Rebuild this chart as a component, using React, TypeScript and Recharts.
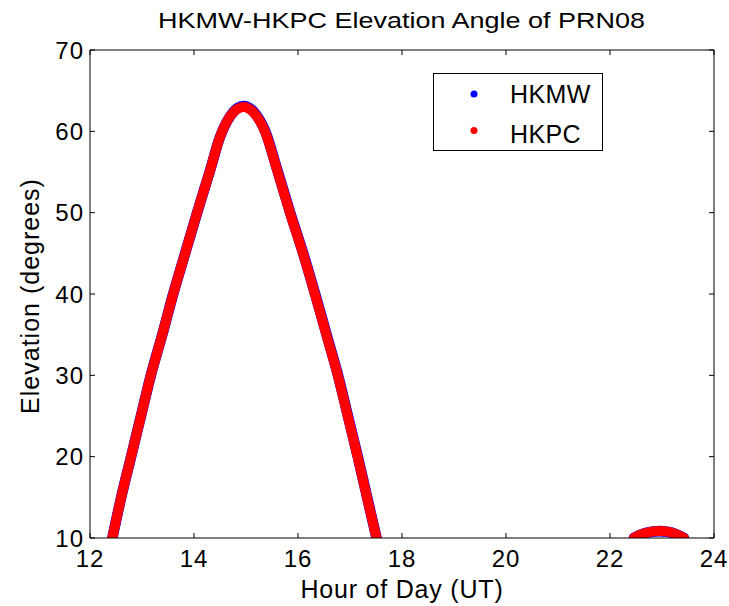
import React from "react";
import { LineChart, Line, XAxis, YAxis } from "recharts";

const xTicks = [12, 14, 16, 18, 20, 22, 24];
const yTicks = [10, 20, 30, 40, 50, 60, 70];

const hkmwPass1 = [
  { x: 12.43, y: 10 }, { x: 12.6, y: 15 }, { x: 12.79, y: 20 }, { x: 12.98, y: 25 },
  { x: 13.17, y: 30 }, { x: 13.39, y: 35 }, { x: 13.6, y: 40 }, { x: 13.83, y: 45 },
  { x: 14.06, y: 50 }, { x: 14.3, y: 55 }, { x: 14.5, y: 59.3 }, { x: 14.7, y: 61.9 },
  { x: 14.95, y: 63.1 }, { x: 15.15, y: 62.4 }, { x: 15.37, y: 60 }, { x: 15.6, y: 55.3 },
  { x: 15.85, y: 50 }, { x: 16.1, y: 45 }, { x: 16.33, y: 40 }, { x: 16.55, y: 35 },
  { x: 16.77, y: 30 }, { x: 16.96, y: 25 }, { x: 17.15, y: 20 }, { x: 17.33, y: 15 },
  { x: 17.51, y: 10 },
];
const hkmwPass2 = [
  { x: 22.46, y: 10 }, { x: 22.6, y: 10.45 }, { x: 22.8, y: 10.78 }, { x: 22.95, y: 10.85 },
  { x: 23.1, y: 10.78 }, { x: 23.28, y: 10.45 }, { x: 23.42, y: 10 },
];
const hkpcPass1 = [
  { x: 12.43, y: 10 }, { x: 12.6, y: 15 }, { x: 12.79, y: 20 }, { x: 12.98, y: 25 },
  { x: 13.17, y: 30 }, { x: 13.39, y: 35 }, { x: 13.6, y: 40 }, { x: 13.83, y: 45 },
  { x: 14.06, y: 50 }, { x: 14.3, y: 55 }, { x: 14.5, y: 59.3 }, { x: 14.7, y: 61.9 },
  { x: 14.95, y: 63.0 }, { x: 15.15, y: 62.3 }, { x: 15.37, y: 59.9 }, { x: 15.6, y: 55.2 },
  { x: 15.85, y: 49.9 }, { x: 16.1, y: 44.9 }, { x: 16.33, y: 39.9 }, { x: 16.55, y: 34.9 },
  { x: 16.77, y: 29.9 }, { x: 16.96, y: 24.9 }, { x: 17.15, y: 19.9 }, { x: 17.33, y: 14.9 },
  { x: 17.51, y: 10 },
];
const hkpcPass2 = [
  { x: 22.46, y: 10 }, { x: 22.6, y: 10.45 }, { x: 22.8, y: 10.78 }, { x: 22.95, y: 10.85 },
  { x: 23.1, y: 10.78 }, { x: 23.28, y: 10.45 }, { x: 23.42, y: 10 },
];

const seriesNames = ["HKMW", "HKPC"];
const seriesColors = ["#0000ff", "#ff0000"];
const titleText = "HKMW-HKPC Elevation Angle of PRN08";
const xLabelText = "Hour of Day (UT)";
const yLabelText = "Elevation (degrees)";

const FONT = "'Liberation Sans', Arial, sans-serif";

export default function App() {
  return (
    <div style={{ position: "absolute", left: 0, top: 0, width: 729, height: 606, background: "#fff" }}>
      <LineChart
        width={729}
        height={606}
        margin={{ top: 49, right: 14, bottom: 28, left: 30 }}
      >
        <XAxis
          xAxisId="b"
          type="number"
          dataKey="x"
          domain={[12, 24]}
          ticks={xTicks}
          allowDataOverflow
          stroke="#000"
          tickSize={-5}
          tickMargin={17}
          height={40}
          tick={{ fill: "#000", fontSize: 24, fontFamily: FONT, letterSpacing: 1 }}
        />
        <XAxis
          xAxisId="t"
          orientation="top"
          type="number"
          dataKey="x"
          domain={[12, 24]}
          ticks={xTicks}
          allowDataOverflow
          stroke="#000"
          tickSize={-5}
          height={1}
          tick={{ fontSize: 1 }}
          tickFormatter={() => ""}
        />
        <YAxis
          yAxisId="l"
          type="number"
          domain={[10, 70]}
          ticks={yTicks}
          allowDataOverflow
          stroke="#000"
          tickSize={-5}
          tickMargin={11}
          width={60}
          tick={{ fill: "#000", fontSize: 24, fontFamily: FONT, letterSpacing: 1 }}
        />
        <YAxis
          yAxisId="r"
          orientation="right"
          type="number"
          domain={[10, 70]}
          ticks={yTicks}
          allowDataOverflow
          stroke="#000"
          tickSize={-5}
          width={1}
          tick={{ fontSize: 1 }}
          tickFormatter={() => ""}
        />
        <Line xAxisId="t" yAxisId="r" data={hkmwPass2} dataKey="y" stroke="none" dot={false} isAnimationActive={false} legendType="none" />
        <Line xAxisId="b" yAxisId="l" data={hkmwPass1} dataKey="y" type="monotone" stroke={seriesColors[0]} strokeWidth={10.6} strokeLinecap="round" dot={false} isAnimationActive={false} legendType="none" />
        <Line xAxisId="b" yAxisId="l" data={hkmwPass2} dataKey="y" type="monotone" stroke={seriesColors[0]} strokeWidth={10.6} strokeLinecap="round" dot={false} isAnimationActive={false} legendType="none" />
        <Line xAxisId="b" yAxisId="l" data={hkpcPass1} dataKey="y" type="monotone" stroke={seriesColors[1]} strokeWidth={10} strokeLinecap="round" dot={false} isAnimationActive={false} legendType="none" />
        <Line xAxisId="b" yAxisId="l" data={hkpcPass2} dataKey="y" type="monotone" stroke={seriesColors[1]} strokeWidth={10} strokeLinecap="round" dot={false} isAnimationActive={false} legendType="none" />
      </LineChart>
      <svg
        width={729}
        height={606}
        style={{ position: "absolute", left: 0, top: 0, pointerEvents: "none" }}
        fontFamily={FONT}
      >
        <text transform="translate(401.5,28.3) scale(1.227,1)" textAnchor="middle" fontSize={22} fill="#000">
          {titleText}
        </text>
        <text x={402} y={597.7} textAnchor="middle" fontSize={25} letterSpacing={0.8} fill="#000">
          {xLabelText}
        </text>
        <text
          x={0}
          y={0}
          transform="translate(39,296) rotate(-90)"
          textAnchor="middle"
          fontSize={25}
          letterSpacing={1}
          fill="#000"
        >
          {yLabelText}
        </text>
        <rect x={433.5} y={73.5} width={169} height={77} fill="#fff" stroke="#000" strokeWidth={1} />
        {seriesNames.map((n, i) => (
          <g key={n}>
            <circle cx={474} cy={94 + i * 36.5} r={3.5} fill={seriesColors[i]} />
            <text x={510} y={103.3 + i * 39.4} fontSize={25} letterSpacing={0.4} fill="#000">
              {n}
            </text>
          </g>
        ))}
      </svg>
    </div>
  );
}
